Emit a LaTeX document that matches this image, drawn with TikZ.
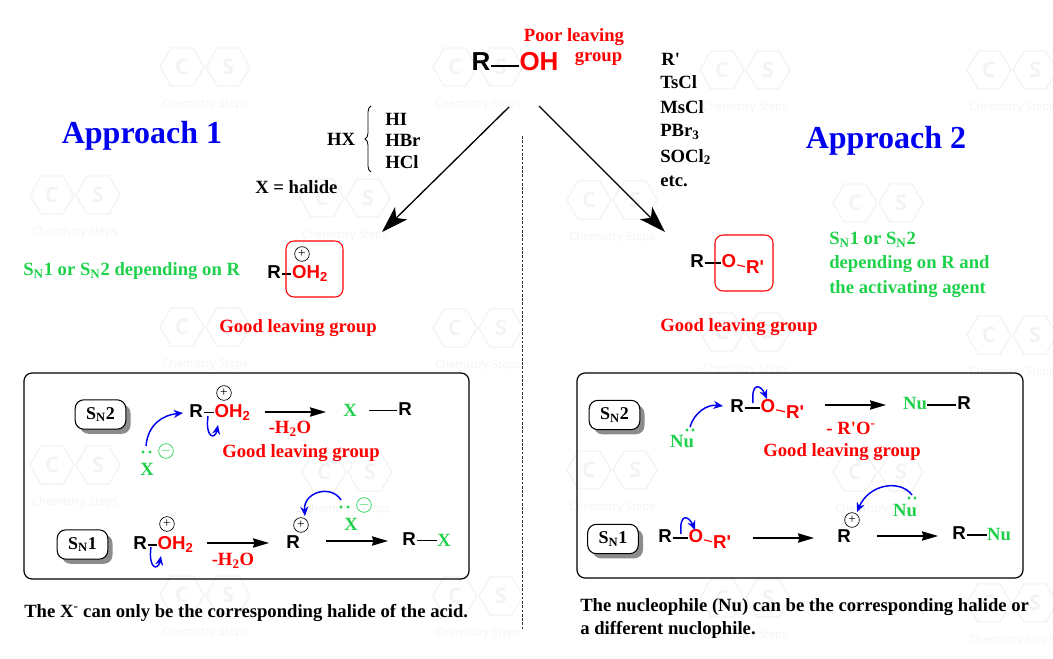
\documentclass[tikz,border=0pt]{standalone}
\usepackage{fontspec}
\setmainfont{Liberation Serif}
\newfontfamily\chemfont{Liberation Sans}
\newfontfamily\markfont{Open Sans}
\usepackage{xcolor}
\usetikzlibrary{arrows.meta,decorations.pathreplacing,shadows}
\definecolor{hot}{HTML}{FF0000}
\definecolor{good}{HTML}{1FD14A}
\definecolor{deep}{HTML}{0000F0}
\definecolor{faint}{HTML}{F3F3F3}
\tikzset{
  lab/.style={font=\fontsize{14}{16}\selectfont\bfseries, inner sep=0pt, yshift=-1.5pt},
  labr/.style={lab, text=hot},
  labg/.style={lab, text=good},
  head/.style={font=\fontsize{24}{28}\selectfont\bfseries, text=deep, inner sep=0pt, yshift=-3pt},
  chem/.style={font=\fontsize{14}{16}\chemfont\bfseries, inner sep=0.5pt, text height=0.72em, text depth=0pt},
  chemr/.style={chem, text=hot},
  big/.style={font=\fontsize{19.5}{22}\chemfont\bfseries, inner sep=0.5pt, text height=0.72em, text depth=0pt},
  bond/.style={draw=black, line width=0.9pt},
  bondr/.style={draw=hot, line width=0.9pt},
  rxn/.style={draw=black, line width=1pt, -{Stealth[length=12pt,width=7pt,inset=1pt]}},
  path1/.style={draw=black, line width=1pt, -{Stealth[length=20pt,width=13pt,inset=5pt]}},
  curly/.style={draw=deep, line width=1.1pt, -{Stealth[length=7pt,width=6pt]}},
  chg/.style={circle, draw=black, line width=0.5pt, inner sep=0pt, minimum size=11pt, font=\fontsize{10}{10}\selectfont},
  chgg/.style={chg, draw=good, text=good},
  lp/.style={circle, fill=good, inner sep=0pt, minimum size=2.4pt},
  pill/.style={draw=black, line width=0.8pt, fill=white, rounded corners=6.5pt, minimum width=38pt, minimum height=22pt,
    inner sep=0pt, font=\fontsize{13.5}{16}\selectfont\bfseries,
    drop shadow={shadow xshift=3.5pt, shadow yshift=-3.5pt, fill=black!45, opacity=1}},
  panel/.style={draw=black, line width=0.9pt, rounded corners=6pt},
  hexm/.style={draw=faint, line width=1pt},
  wmt/.style={text=faint, font=\fontsize{8.5}{10}\markfont, inner sep=0pt},
  wml/.style={text=faint, font=\fontsize{16}{18}\markfont\bfseries, inner sep=0pt}
}
\begin{document}
\begin{tikzpicture}[x=0.75pt,y=-0.75pt]
  \useasboundingbox (0,0) rectangle (1053,659);
  % background marks
  \foreach \wx/\wy in {205/67,478/67,745/70,1012/70,
                       75/195,345/198,612/200,878/203,
                       205/327,478/328,745/332,1012/335,
                       75/465,347/472,612/470,878/472,
                       205/595,478/596,745/598,1012/603}{
    \draw[hexm] (\wx-45,\wy) -- ++(11,-19) -- ++(22,0) -- ++(11,19) -- ++(-11,19) -- ++(-22,0) -- cycle;
    \draw[hexm] (\wx+1,\wy) -- ++(11,-19) -- ++(22,0) -- ++(11,19) -- ++(-11,19) -- ++(-22,0) -- cycle;
    \node[wml] at (\wx-23,\wy) {C};
    \node[wml] at (\wx+23,\wy) {S};
    \node[wmt] at (\wx,\wy+38) {Chemistry Steps};
  }

  % top alcohol
  \node[big] (r0) at (481,66) {R};
  \node[big,text=hot] (oh0) at (539,66) {OH};
  \draw[bond] (r0) -- (oh0);
  \node[labr] (poor) at (574,35) {Poor leaving};
  \node[labr] (grp) at (598.5,57) {group};

  % reagents, left
  \node[lab] (hx) at (341,137) {HX};
  \node[lab,anchor=west] (hi) at (385,117) {HI};
  \node[lab,anchor=west] (hbr) at (385,138) {HBr};
  \node[lab,anchor=west] (hcl) at (385,160) {HCl};
  \coordinate (brb) at (371,172);
  \coordinate (brt) at (371,106);
  \draw[line width=0.6pt, decorate, decoration={brace,amplitude=4.5pt}] (brb) -- (brt);
  \node[lab,anchor=west] (hal) at (255,185) {X = halide};

  % reagents, right
  \node[lab,anchor=west] (rp) at (661,57) {R\textquotesingle};
  \node[lab,anchor=west] (ts) at (660,80) {TsCl};
  \node[lab,anchor=west] (ms) at (660,105) {MsCl};
  \node[lab,anchor=west] (pbr) at (660,130) {PBr\textsubscript{3}};
  \node[lab,anchor=west] (soc) at (660,155) {SOCl\textsubscript{2}};
  \node[lab,anchor=west] (etc) at (660,179) {etc.};

  % two paths
  \coordinate (al) at (509,107);
  \coordinate (ar) at (539,106);
  \coordinate (bl) at (382,232);
  \coordinate (br) at (665,232);
  \draw[path1] (al) -- (bl);
  \draw[path1] (ar) -- (br);
  \coordinate (dt) at (522,136);
  \coordinate (db) at (522,630);
  \draw[black!80, line width=0.5pt, dash pattern=on 2pt off 1.2pt] (dt) -- (db);

  \node[head] (ap1) at (142,132) {Approach 1};
  \node[head] (ap2) at (886,137) {Approach 2};

  % approach 1 product
  \node[labg,anchor=west] (sl) at (23,269) {S\textsubscript{N}1 or S\textsubscript{N}2 depending on R};
  \node[chem] (r1) at (274,274) {R};
  \node[chemr] (o1) at (310,274) {OH\textsubscript{2}};
  \draw[bond] (r1) -- (o1);
  \node[chg] (p1) at (302,254) {+};
  \draw[draw=hot, line width=0.8pt, rounded corners=6pt] (286,241) rectangle (343,297);
  \node[labr] (gl1) at (298,326) {Good leaving group};

  % approach 2 product
  \node[chem] (r2) at (697,263) {R};
  \node[chemr] (o2) at (729,263) {O};
  \node[chemr] (q2) at (755,269) {R\textquotesingle};
  \draw[bond] (r2) -- (o2);
  \draw[bondr] (o2) -- (q2);
  \draw[draw=hot, line width=0.8pt, rounded corners=6pt] (715,235) rectangle (773,291);
  \node[labg,anchor=west] (sr1) at (829,238) {S\textsubscript{N}1 or S\textsubscript{N}2};
  \node[labg,anchor=west] (sr2) at (829,262) {depending on R and};
  \node[labg,anchor=west] (sr3) at (829,287) {the activating agent};
  \node[labr] (gl2) at (739,325) {Good leaving group};

  % left panel
  \draw[panel] (24,373) rectangle (469,579);
  \node[pill] (ls2) at (100.5,414.5) {S\textsubscript{N}2};
  \node[pill] (ls1) at (82.5,544.5) {S\textsubscript{N}1};

  \node[chem] (r3) at (196,412.5) {R};
  \node[chemr] (o3) at (232.5,412.5) {OH\textsubscript{2}};
  \draw[bond] (r3) -- (o3);
  \node[chg] (p3) at (224,393) {+};
  \node[lab,text=good] (x3) at (147,467) {X};
  \node[lp] (d3a) at (143,452) {};
  \node[lp] (d3b) at (150,452) {};
  \node[chgg] (m3) at (166,451) {$-$};
  \coordinate (c3s) at (146,446);
  \coordinate (c3e) at (183,413);
  \draw[curly] (c3s) .. controls +(2,-22) and +(-20,2) .. (c3e);
  \coordinate (u3s) at (208,416);
  \coordinate (u3e) at (218,425);
  \draw[curly] (u3s) .. controls +(-3,22) and +(-3,15) .. (u3e);
  \coordinate (a3s) at (265,412);
  \coordinate (a3e) at (326,412);
  \draw[rxn] (a3s) -- (a3e);
  \node[labr] (w3) at (290,427) {-H\textsubscript{2}O};
  \node[lab,text=good] (x4) at (350,408) {X};
  \node[chem] (r4) at (405,410.5) {R};
  \coordinate (b4) at (369,410.5);
  \draw[bond] (b4) -- (r4);
  \node[labr] (gl3) at (301,451) {Good leaving group};

  \node[chem] (r5) at (140,545) {R};
  \node[chemr] (o5) at (175.5,545) {OH\textsubscript{2}};
  \draw[bond] (r5) -- (o5);
  \node[chg] (p5) at (167,524) {+};
  \coordinate (u5s) at (151,547);
  \coordinate (u5e) at (161,556);
  \draw[curly] (u5s) .. controls +(-3,22) and +(-3,15) .. (u5e);
  \coordinate (a5s) at (207,543);
  \coordinate (a5e) at (269,543);
  \draw[rxn] (a5s) -- (a5e);
  \node[labr] (w5) at (233,559) {-H\textsubscript{2}O};
  \node[chem] (r6) at (293,544) {R};
  \node[chg] (p6) at (301,525) {+};
  \node[lab,text=good] (x6) at (351,522) {X};
  \node[lp] (d6a) at (341,507) {};
  \node[lp] (d6b) at (348,507) {};
  \node[chgg] (m6) at (364,505) {$-$};
  \coordinate (c6s) at (341,500);
  \coordinate (c6e) at (305,516);
  \draw[curly] (c6s) .. controls +(-10,-16) and +(-2,-24) .. (c6e);
  \coordinate (a6s) at (326,541);
  \coordinate (a6e) at (388,541);
  \draw[rxn] (a6s) -- (a6e);
  \node[chem] (r7) at (409,540.5) {R};
  \node[lab,text=good] (x7) at (444,538.5) {X};
  \draw[bond] (r7.east) -- (r7.east -| x7.west);

  \node[lab,anchor=west] (nl) at (24,611) {The X\textsuperscript{-} can only be the corresponding halide of the acid.};

  % right panel
  \draw[panel] (577,373) rectangle (1023,578);
  \node[pill] (rs2) at (614.5,415) {S\textsubscript{N}2};
  \node[pill] (rs1) at (613,539) {S\textsubscript{N}1};

  \node[chem] (r8) at (737,408) {R};
  \node[chemr] (o8) at (768,408) {O};
  \node[chemr] (q8) at (795,414) {R\textquotesingle};
  \draw[bond] (r8) -- (o8);
  \draw[bondr] (o8) -- (q8);
  \node[lab,text=good] (n8) at (682,440) {Nu};
  \node[lp] (d8a) at (687,430) {};
  \node[lp] (d8b) at (693,430) {};
  \coordinate (c8s) at (690,427);
  \coordinate (c8e) at (723,406);
  \draw[curly] (c8s) .. controls +(4,-14) and +(-16,-2) .. (c8e);
  \coordinate (u8s) at (753,403);
  \coordinate (u8e) at (767,399);
  \draw[curly] (u8s) .. controls +(-2,-22) and +(-6,-14) .. (u8e);
  \coordinate (a8s) at (825,405);
  \coordinate (a8e) at (886,405);
  \draw[rxn] (a8s) -- (a8e);
  \node[labr] (w8) at (851,426) {- R\textquotesingle O\textsuperscript{-}};
  \node[lab,text=good] (n9) at (915,402) {Nu};
  \node[chem] (r9) at (964,405) {R};
  \draw[bond] (r9.west -| n9.east) -- (r9.west);
  \node[labr] (gl4) at (842,450) {Good leaving group};

  \node[chem] (r10) at (665,538) {R};
  \node[chemr] (o10) at (696,538) {O};
  \node[chemr] (q10) at (722,544) {R\textquotesingle};
  \draw[bond] (r10) -- (o10);
  \draw[bondr] (o10) -- (q10);
  \coordinate (u10s) at (681,534);
  \coordinate (u10e) at (695,530);
  \draw[curly] (u10s) .. controls +(-2,-22) and +(-6,-14) .. (u10e);
  \coordinate (a10s) at (753,538);
  \coordinate (a10e) at (814,538);
  \draw[rxn] (a10s) -- (a10e);
  \node[chem] (r11) at (844,538) {R};
  \node[chg] (p11) at (852,520) {+};
  \node[lab,text=good] (n11) at (905,509) {Nu};
  \node[lp] (d11a) at (909,498) {};
  \node[lp] (d11b) at (915,498) {};
  \coordinate (c11s) at (912,495);
  \coordinate (c11e) at (857,512);
  \draw[curly] (c11s) .. controls +(-12,-16) and +(12,-28) .. (c11e);
  \coordinate (a11s) at (877,536);
  \coordinate (a11e) at (938,536);
  \draw[rxn] (a11s) -- (a11e);
  \node[chem] (r12) at (959,535) {R};
  \node[lab,text=good] (n12) at (999,532.5) {Nu};
  \draw[bond] (r12.east) -- (r12.east -| n12.west);

  \node[lab,anchor=west] (nr1) at (580,605) {The nucleophile (Nu) can be the corresponding halide or};
  \node[lab,anchor=west] (nr2) at (580,628) {a different nuclophile.};
\end{tikzpicture}
\end{document}
